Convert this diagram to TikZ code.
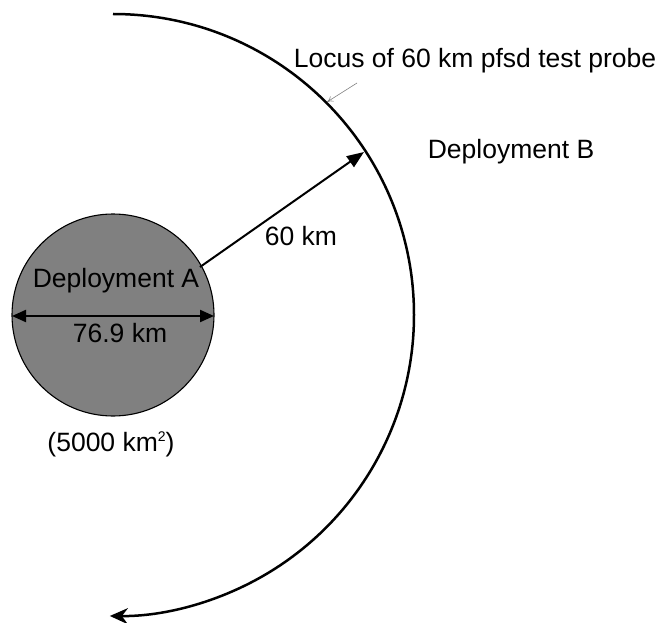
\documentclass[tikz,border=0pt]{standalone}
\usepackage{fontspec}
\setmainfont{Liberation Sans}
\usetikzlibrary{arrows.meta}
\newcommand{\supsmall}[1]{\raisebox{9.5pt}{\fontsize{14}{14}\selectfont #1}}
\begin{document}
\begin{tikzpicture}[x=1pt,y=-1pt,
  lbl/.style={font=\fontsize{26.5}{30}\selectfont, inner sep=0pt, anchor=base},
  thickarrow/.style={line width=2pt, -{Triangle[length=17pt,width=13pt]}},
  dimarrow/.style={line width=2.2pt, {Triangle[length=14pt,width=12pt]}-{Triangle[length=14pt,width=12pt]}},
  locus/.style={line width=2.5pt, -{Stealth[length=18pt,width=16pt,inset=6pt]}},
  pointer/.style={gray, line width=0.6pt, -{To[length=6pt,width=6pt]}}]
\useasboundingbox (0,0) rectangle (659,623);
% Deployment A area
\node[circle, draw=black, line width=1.1pt, fill=gray, minimum size=202pt, inner sep=0pt] (A) at (113,315) {};
% locus arc
\coordinate (top) at (113,14);
\draw[locus] (top) arc[start angle=-90, end angle=90.6, radius=301];
% radius arrow
\coordinate (rstart) at (200,267);
\coordinate (rend) at (364,152);
\draw[thickarrow] (rstart) -- (rend);
% diameter arrow
\coordinate (dl) at (12,316);
\coordinate (dr) at (214,316);
\draw[dimarrow] (dl) -- (dr);
% labels
\node[lbl] (locuslbl) at (475,68) {Locus of 60 km pfsd test probe};
\node[lbl] (deplB) at (511,159) {Deployment B};
\node[lbl] (sixty) at (301,245) {60 km};
\node[lbl] (deplA) at (116,287) {Deployment A};
\node[lbl] (diam) at (120,342) {76.9 km};
\node[lbl] (area) at (111,451) {(5000 km\supsmall{2})};
% pointer
\coordinate (pfrom) at (357,83);
\coordinate (pto) at (327,102);
\draw[pointer] (pfrom) -- (pto);
\end{tikzpicture}
\end{document}
